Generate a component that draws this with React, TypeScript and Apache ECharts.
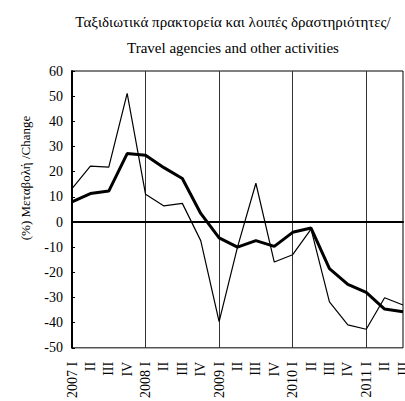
import React, { useEffect, useRef } from "react";
import * as echarts from "echarts";

const categories = [
  "2007 I", "II", "III", "IV",
  "2008 I", "II", "III", "IV",
  "2009 I", "II", "III", "IV",
  "2010 I", "II", "III", "IV",
  "2011 I", "II", "III",
];

const thinSeries = [13.3, 22.2, 21.8, 51.1, 11.0, 6.4, 7.4, -7.4, -39.6, -10.0, 15.4, -15.9, -13.0, -2.8, -31.7, -40.9, -42.6, -30.1, -33.0];
const thickSeries = [8.0, 11.3, 12.3, 27.2, 26.5, 21.6, 17.3, 3.4, -6.3, -10.0, -7.4, -9.7, -4.1, -2.4, -18.5, -24.8, -28.0, -34.6, -35.7];

const yMin = -50;
const yMax = 60;
const yStep = 10;

const titleLine1 = "Ταξιδιωτικά πρακτορεία και λοιπές δραστηριότητες/";
const titleLine2 = "Travel agencies and other activities";
const yTitle = "(%) Μεταβολή /Change";

const FONT = "'Liberation Serif', 'DejaVu Serif', serif";

export default function App() {
  const ref = useRef<HTMLDivElement>(null);
  useEffect(() => {
    if (!ref.current) return;
    const chart = echarts.init(ref.current, null, { renderer: "svg" });
    chart.setOption({
      animation: false,
      backgroundColor: "#fff",
      grid: {
        left: 72,
        top: 71,
        right: 3,
        bottom: 51,
        show: true,
        borderColor: "#000",
        borderWidth: 1,
      },
      graphic: [
        {
          type: "text",
          x: 233,
          y: 22,
          style: {
            text: titleLine1,
            font: `15px ${FONT}`,
            fill: "#000",
            align: "center",
            verticalAlign: "middle",
          },
        },
        {
          type: "text",
          x: 233,
          y: 48,
          style: {
            text: titleLine2,
            font: `15px ${FONT}`,
            fill: "#000",
            align: "center",
            verticalAlign: "middle",
          },
        },
        {
          type: "text",
          x: 25,
          y: 178,
          rotation: Math.PI / 2,
          style: {
            text: yTitle,
            font: `13px ${FONT}`,
            fill: "#000",
            align: "center",
            verticalAlign: "middle",
          },
        },
      ],
      xAxis: {
        type: "category",
        data: categories,
        boundaryGap: false,
        axisLine: { show: true, lineStyle: { color: "#000", width: 2 } },
        axisTick: { show: false },
        axisLabel: {
          interval: 0,
          rotate: 90,
          margin: 14,
          color: "#000",
          fontFamily: FONT,
          fontSize: 14,
        },
        splitLine: {
          show: true,
          interval: (index: number) => index % 4 === 0,
          lineStyle: { color: "#333", width: 1 },
        },
      },
      yAxis: {
        type: "value",
        min: yMin,
        max: yMax,
        interval: yStep,
        axisLine: { show: true, lineStyle: { color: "#000", width: 2 } },
        axisTick: { show: true, inside: true, length: 3, lineStyle: { color: "#000" } },
        axisLabel: {
          color: "#000",
          fontFamily: FONT,
          fontSize: 14,
          margin: 9,
        },
        splitLine: { show: false },
      },
      series: [
        {
          type: "line",
          data: thinSeries,
          symbol: "none",
          lineStyle: { color: "#000", width: 1.2 },
          z: 3,
          markLine: {
            silent: true,
            symbol: "none",
            label: { show: false },
            lineStyle: { color: "#000", width: 1, type: "solid" },
            data: [{ yAxis: 0 }],
          },
        },
        {
          type: "line",
          data: thickSeries,
          symbol: "none",
          lineStyle: { color: "#000", width: 3 },
          z: 4,
        },
      ],
    });
    return () => chart.dispose();
  }, []);
  return (
    <div
      style={{
        position: "absolute",
        left: 0,
        top: 0,
        width: 405,
        height: 401,
        overflow: "hidden",
      }}
    >
      <div ref={ref} style={{ width: 410, height: 401 }} />
    </div>
  );
}
